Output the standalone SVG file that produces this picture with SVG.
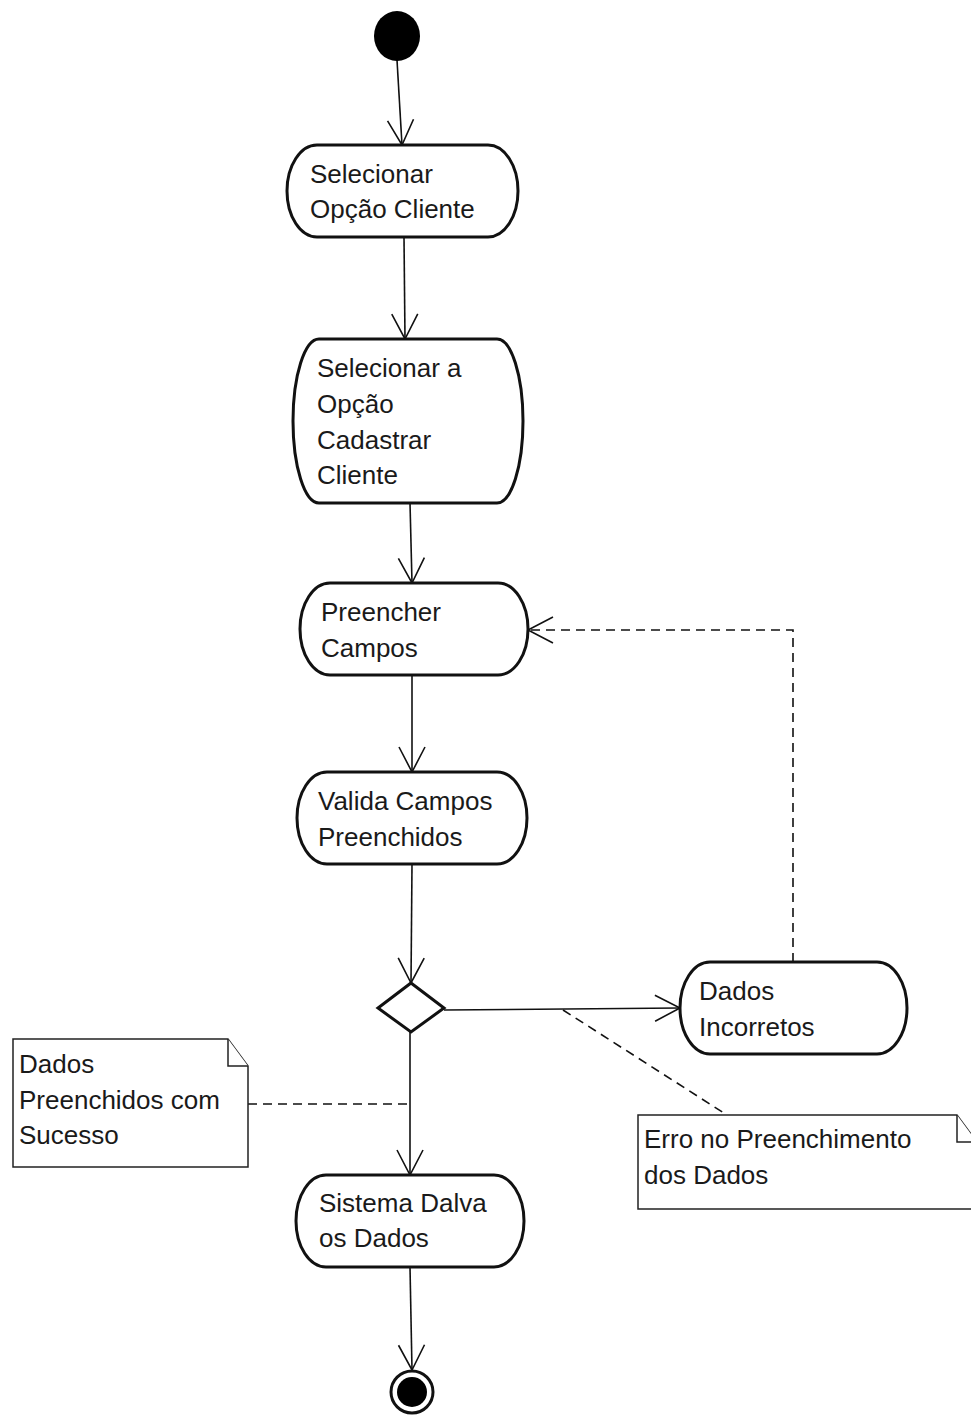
<svg xmlns="http://www.w3.org/2000/svg" width="971" height="1416" viewBox="0 0 971 1416">
<style>
.node{fill:#fff;stroke:#111;stroke-width:3}
.note{fill:#fff;stroke:#222;stroke-width:1.5}
.t{font-family:"Liberation Sans",Arial,sans-serif;font-size:26px;fill:#1a1a1a}
.c{fill:none;stroke:#111;stroke-width:1.6}
.d{fill:none;stroke:#111;stroke-width:1.6;stroke-dasharray:9 6}
</style>
<defs>
<marker id="open" viewBox="0 0 30 30" refX="26" refY="15" markerWidth="30" markerHeight="30" markerUnits="userSpaceOnUse" orient="auto">
<path d="M1,2 L26,15 L1,28" fill="none" stroke="#111" stroke-width="1.6"/>
</marker>
</defs>
<rect width="971" height="1416" fill="#fff"/>
<g id="connectors">
<path class="c" d="M397,60 L402,145" marker-end="url(#open)"/>
<path class="c" d="M404,237 L405,339" marker-end="url(#open)"/>
<path class="c" d="M410,503 L412,583" marker-end="url(#open)"/>
<path class="c" d="M412,675 L412,772" marker-end="url(#open)"/>
<path class="c" d="M412,864 L411,983" marker-end="url(#open)"/>
<path class="c" d="M444,1010 L680,1008" marker-end="url(#open)"/>
<path class="c" d="M410,1032 L410,1175" marker-end="url(#open)"/>
<path class="c" d="M410,1267 L412,1370" marker-end="url(#open)"/>
<path class="d" d="M793,962 V630 H528" marker-end="url(#open)"/>
<path class="d" d="M248,1104 H410"/>
<path class="d" d="M563,1010 L727,1115"/>
</g>
<g id="start"><ellipse cx="397" cy="36" rx="23" ry="25" fill="#000"/></g>
<g id="n1">
<rect class="node" x="287" y="145" width="231" height="92" rx="30" ry="46"/>
<text class="t" x="310" y="183">Selecionar</text>
<text class="t" x="310" y="218">Opção Cliente</text>
</g>
<g id="n2">
<rect class="node" x="293" y="339" width="230" height="164" rx="26" ry="82"/>
<text class="t" x="317" y="377">Selecionar a</text>
<text class="t" x="317" y="413">Opção</text>
<text class="t" x="317" y="449">Cadastrar</text>
<text class="t" x="317" y="484">Cliente</text>
</g>
<g id="n3">
<rect class="node" x="300" y="583" width="228" height="92" rx="30" ry="46"/>
<text class="t" x="321" y="621">Preencher</text>
<text class="t" x="321" y="657">Campos</text>
</g>
<g id="n4">
<rect class="node" x="297" y="772" width="230" height="92" rx="30" ry="46"/>
<text class="t" x="318" y="810">Valida Campos</text>
<text class="t" x="318" y="846">Preenchidos</text>
</g>
<g id="decision"><path class="node" d="M411,983 L444,1008 L411,1032 L378,1008 Z"/></g>
<g id="n5">
<rect class="node" x="680" y="962" width="227" height="92" rx="30" ry="46"/>
<text class="t" x="699" y="1000">Dados</text>
<text class="t" x="699" y="1036">Incorretos</text>
</g>
<g id="note1">
<path class="note" d="M13,1039 H228 L248,1066 V1167 H13 Z"/>
<path class="note" d="M228,1039 V1066 H248"/>
<text class="t" x="19" y="1073">Dados</text>
<text class="t" x="19" y="1109">Preenchidos com</text>
<text class="t" x="19" y="1144">Sucesso</text>
</g>
<g id="note2">
<path class="note" d="M638,1115 H957 L977,1142 V1209 H638 Z"/>
<path class="note" d="M957,1115 V1142 H977"/>
<text class="t" x="644" y="1148">Erro no Preenchimento</text>
<text class="t" x="644" y="1184">dos Dados</text>
</g>
<g id="n6">
<rect class="node" x="296" y="1175" width="228" height="92" rx="30" ry="46"/>
<text class="t" x="319" y="1212">Sistema Dalva</text>
<text class="t" x="319" y="1247">os Dados</text>
</g>
<g id="end">
<circle cx="412" cy="1392" r="21" fill="#fff" stroke="#111" stroke-width="3"/>
<circle cx="412" cy="1392" r="15" fill="#000"/>
</g>
</svg>
